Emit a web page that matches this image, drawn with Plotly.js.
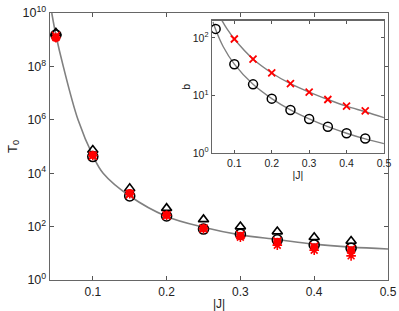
<!DOCTYPE html>
<html><head><meta charset="utf-8">
<script src="https://cdn.plot.ly/plotly-3.0.1.min.js"></script>
<style>body{margin:0;background:#fff}#c{width:399px;height:311px}</style>
</head><body><div id="c"></div>
<script>
// Main panel data
const J = [0.05, 0.10, 0.15, 0.20, 0.25, 0.30, 0.35, 0.40, 0.45];
const T0_triangle = [1.8e9, 7.4e4, 2.7e3, 490, 186, 100, 65, 40, 29];
const T0_circle   = [1.5e9, 4.2e4, 1.4e3, 250, 81, 52, 32, 20.6, 15.5];
const T0_redfill  = [1.15e9, 4.8e4, 1.8e3, 270, 87, 45, 27, 17, 13];
const T0_redx     = [1.4e9, 4.5e4, 1.6e3, 260, 85, 48, 28, 18, 14];
const T0_redstar  = [1.2e9, 4.6e4, 1.7e3, 265, 84, 40, 20, 13, 8];
const fitJ  = [0.0444, 0.05, 0.06, 0.08, 0.10, 0.114, 0.15, 0.20, 0.25, 0.30, 0.35, 0.40, 0.45, 0.50];
const fitT0 = [1e10, 1.5e9, 1e8, 1e6, 4.6e4, 1e4, 1.4e3, 240, 95, 49, 33, 22, 17, 14.5];
// Inset data
const Jb = [0.05, 0.10, 0.15, 0.20, 0.25, 0.30, 0.35, 0.40, 0.45];
const b_circle = [144, 35, 15.6, 8.8, 5.6, 3.9, 2.86, 2.2, 1.78];
const Jx = [0.10, 0.15, 0.20, 0.25, 0.30, 0.35, 0.40, 0.45];
const b_x = [96, 43, 24.6, 16, 11.4, 8.5, 6.5, 5.4];
const fitJc = [0.043, 0.05, 0.07, 0.10, 0.15, 0.20, 0.25, 0.30, 0.35, 0.40, 0.45, 0.50];
const fitBc = [190, 140, 71, 35, 15.6, 8.8, 5.6, 3.9, 2.86, 2.2, 1.75, 1.45];
const fitJx = [0.067, 0.08, 0.10, 0.15, 0.20, 0.25, 0.30, 0.35, 0.40, 0.45, 0.50];
const fitBx = [200, 145, 96, 43, 24.6, 16, 11.4, 8.5, 6.5, 5.2, 4.1];

const mainTickVals = [1, 1e2, 1e4, 1e6, 1e8, 1e10];
const mainTickText = ['10<sup>0</sup>','10<sup>2</sup>','10<sup>4</sup>','10<sup>6</sup>','10<sup>8</sup>','10<sup>10</sup>'];
const insetTickVals = [1, 10, 100];
const insetTickText = ['10<sup>0</sup>','10<sup>1</sup>','10<sup>2</sup>'];
const xTicks = [0.1, 0.2, 0.3, 0.4, 0.5];

const gray = '#808080';
const traces = [
  {x: fitJ, y: fitT0, mode:'lines', line:{color:gray, width:1.6, shape:'spline'}, xaxis:'x', yaxis:'y', hoverinfo:'skip'},
  {x: J, y: T0_triangle, mode:'markers', marker:{symbol:'triangle-up-open', size:9, color:'#000', line:{width:1.6}}, xaxis:'x', yaxis:'y'},
  {x: J, y: T0_circle, mode:'markers', marker:{symbol:'circle-open', size:10, color:'#000', line:{width:1.6}}, xaxis:'x', yaxis:'y'},
  {x: J, y: T0_redfill, mode:'markers', marker:{symbol:'circle', size:8, color:'#ff0000'}, xaxis:'x', yaxis:'y'},
  {x: J, y: T0_redx, mode:'markers', marker:{symbol:'x-thin-open', size:8, color:'#ff0000', line:{width:1.6, color:'#ff0000'}}, xaxis:'x', yaxis:'y'},
  {x: J, y: T0_redstar, mode:'markers', marker:{symbol:'asterisk-open', size:8, color:'#ff0000', line:{width:1.6, color:'#ff0000'}}, xaxis:'x', yaxis:'y'},
  {x: fitJc, y: fitBc, mode:'lines', line:{color:gray, width:1.4, shape:'spline'}, xaxis:'x2', yaxis:'y2'},
  {x: fitJx, y: fitBx, mode:'lines', line:{color:gray, width:1.4, shape:'spline'}, xaxis:'x2', yaxis:'y2'},
  {x: Jb, y: b_circle, mode:'markers', marker:{symbol:'circle-open', size:9, color:'#000', line:{width:1.5}}, xaxis:'x2', yaxis:'y2'},
  {x: Jx, y: b_x, mode:'markers', marker:{symbol:'x-thin-open', size:7, color:'#ff0000', line:{width:1.8, color:'#ff0000'}}, xaxis:'x2', yaxis:'y2'}
];

const font = {family:'Liberation Sans, Arial, sans-serif', size:12, color:'#222'};
const axisCommon = {showgrid:false, zeroline:false, ticks:'inside', ticklen:4, tickcolor:'#555', linecolor:'#666', linewidth:1.3, mirror:'ticks', showline:true};
const layout = {
  width:399, height:311, margin:{l:50, r:11, t:13, b:31},
  paper_bgcolor:'#fff', plot_bgcolor:'#fff', showlegend:false, font:font,
  xaxis: Object.assign({}, axisCommon, {range:[0.042, 0.5], tickvals:xTicks, ticktext:xTicks.map(v=>v.toFixed(1)),
    tickfont:{size:12}, title:{text:'|J|', font:{size:12}, standoff:3}, domain:[0,1]}),
  yaxis: Object.assign({}, axisCommon, {type:'log', range:[0,10], tickvals:mainTickVals, ticktext:mainTickText,
    tickfont:{size:12.5}, title:{text:'T<sub>0</sub>', font:{size:13}, standoff:2}}),
  xaxis2: Object.assign({}, axisCommon, {anchor:'y2', domain:[0.479, 0.988], range:[0.04, 0.5], tickvals:xTicks,
    ticktext:xTicks.map(v=>v.toFixed(1)), ticklen:3, tickfont:{size:10.5}, title:{text:'|J|', font:{size:10.5}, standoff:0}}),
  yaxis2: Object.assign({}, axisCommon, {anchor:'x2', domain:[0.476, 0.971], type:'log', range:[0, 2.3],
    tickvals:insetTickVals, ticktext:insetTickText, ticklen:3, tickfont:{size:10.5}, title:{text:'b', font:{size:10.5}, standoff:0}})
};
Plotly.newPlot('c', traces, layout, {displayModeBar:false, staticPlot:true});
</script></body></html>
